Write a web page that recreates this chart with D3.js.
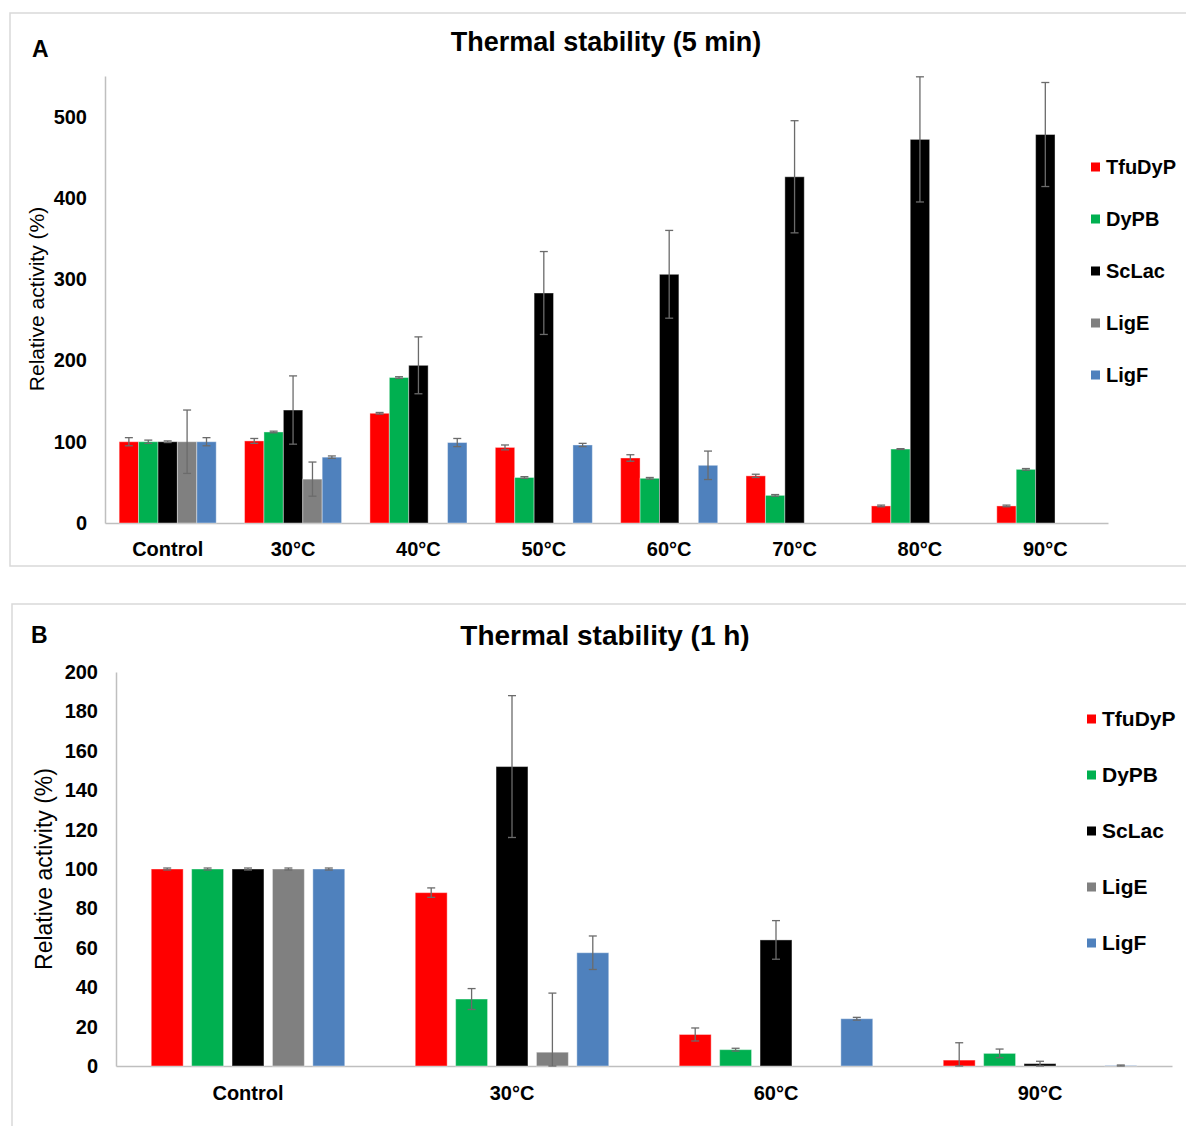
<!DOCTYPE html>
<html><head><meta charset="utf-8">
<script src="https://cdn.jsdelivr.net/npm/d3@7"></script>
<style>
body{margin:0;background:#fff}
svg{display:block}
text{font-family:'Liberation Sans',Arial,sans-serif;fill:#000}
</style>
</head><body>
<svg id="chart" width="1186" height="1126"></svg>
<script>
// series + colours
const SERIES=["TfuDyP","DyPB","ScLac","LigE","LigF"];
const COLORS=["#ff0000","#00b050","#000000","#808080","#4f81bd"];

// ── A : 5 min ──
const CAT_A=["Control","30°C","40°C","50°C","60°C","70°C","80°C","90°C"];
const TICKS_A=[0,100,200,300,400,500];
const TFU_A=[100,101,135,93,80,58,21,21];
const TFU_A_ERR=[5,3,1,3,4,2,1,1];
const DYPB_A=[100,112,179,56,55,34,91,66];
const DYPB_A_ERR=[2,1,1,1,1,1,0.5,1];
const SCLAC_A=[100,139,194,283,306,426,472,478];
const SCLAC_A_ERR=[1,42,35,51,54,69,77,64];
const LIGE_A=[100,54,null,null,null,null,null,null];
const LIGE_A_ERR=[39,21,null,null,null,null,null,null];
const LIGF_A=[100,81,99,96,71,null,null,null];
const LIGF_A_ERR=[5,1.5,5,2,17.5,null,null,null];

// ── B : 1 h ──
const CAT_B=["Control","30°C","60°C","90°C"];
const TICKS_B=[0,20,40,60,80,100,120,140,160,180,200];
const TFU_B=[100,88,16,3];
const TFU_B_ERR=[0.5,2.4,3.3,8.8];
const DYPB_B=[100,34,8.3,6.4];
const DYPB_B_ERR=[0.5,5.3,0.7,2.2];
const SCLAC_B=[100,152,64,1.2];
const SCLAC_B_ERR=[0.5,36,9.8,1.2];
const LIGE_B=[100,7,null,null];
const LIGE_B_ERR=[0.5,30,null,null];
const LIGF_B=[100,57.5,24,0.2];
const LIGF_B_ERR=[0.5,8.5,0.7,0.3];

const svg=d3.select("#chart");
const FONT="'Liberation Sans',Arial,sans-serif";

function drawPanel(o){
  const g=svg.append("g");
  // frame
  g.append("rect").attr("x",o.frame[0]).attr("y",o.frame[1]).attr("width",o.frame[2]).attr("height",o.frame[3])
    .attr("fill","none").attr("stroke","#d9d9d9").attr("stroke-width",1.5);

  const x0=d3.scaleBand().domain(o.cats).range([o.left,o.right]).paddingInner(o.pad).paddingOuter(o.pad/2);
  const x1=d3.scaleBand().domain(SERIES).range([0,x0.bandwidth()]).paddingInner(o.inner);
  const y=d3.scaleLinear().domain([0,o.yMax]).range([o.bottom,o.top]);

  g.append("text").attr("x",o.letter[0]).attr("y",o.letter[1]).attr("font-size",23).attr("font-weight","bold").text(o.letterTxt);
  g.append("text").attr("x",o.titleX).attr("y",o.titleY).attr("text-anchor","middle")
    .attr("font-size",o.titleSize).attr("font-weight","bold").text(o.title);

  // axes
  const ya=g.append("g").attr("transform",`translate(${o.left},0)`)
    .call(d3.axisLeft(y).tickValues(o.ticks).tickSize(0).tickSizeOuter(0).tickPadding(18));
  ya.select(".domain").attr("stroke","#bfbfbf").attr("stroke-width",1.5);
  ya.selectAll("text").attr("font-size",o.tickSize).attr("font-weight","bold").attr("font-family",FONT).attr("fill","#000");

  const xa=g.append("g").attr("transform",`translate(0,${o.bottom})`)
    .call(d3.axisBottom(x0).tickSize(0).tickSizeOuter(0).tickPadding(o.catPad));
  xa.select(".domain").attr("stroke","#bfbfbf").attr("stroke-width",1.5);
  xa.selectAll("text").attr("font-size",o.tickSize).attr("font-weight","bold").attr("font-family",FONT).attr("fill","#000");

  // bars + error bars
  o.cats.forEach((c,i)=>{
    SERIES.forEach((s,k)=>{
      const v=o.vals[k][i];
      if(v===null)return;
      const bx=x0(c)+x1(s),bw=x1.bandwidth();
      g.append("rect").attr("x",bx).attr("y",y(v)).attr("width",bw).attr("height",y(0)-y(v))
        .attr("fill",COLORS[k]).attr("stroke","#fff").attr("stroke-opacity",0.4).attr("stroke-width",1);
      const e=o.errs[k][i];
      if(e===null)return;
      const cx=bx+bw/2,top=y(v+e),bot=y(Math.max(0,v-e));
      g.append("line").attr("x1",cx).attr("x2",cx).attr("y1",top).attr("y2",bot)
        .attr("stroke","#6b6b6b").attr("stroke-width",1.3);
      [top,bot].forEach(yy=>{
        g.append("line").attr("x1",cx-4).attr("x2",cx+4).attr("y1",yy).attr("y2",yy)
          .attr("stroke","#6b6b6b").attr("stroke-width",1.3);
      });
    });
  });

  // y label
  g.append("text").attr("transform",`translate(${o.ylab[0]},${o.ylab[1]}) rotate(-90)`)
    .attr("text-anchor","middle").attr("font-size",o.ylabSize).text("Relative activity (%)");

  // legend
  SERIES.forEach((s,k)=>{
    const ly=o.legY+k*o.legDy;
    g.append("rect").attr("x",o.legX).attr("y",ly-4.5).attr("width",9).attr("height",9).attr("fill",COLORS[k]);
    g.append("text").attr("x",o.legX+15).attr("y",ly+7).attr("font-size",o.legSize).attr("font-weight","bold").text(s);
  });
}

drawPanel({
  frame:[10,13,1200,553],cats:CAT_A,ticks:TICKS_A,yMax:550,
  left:105,right:1108,top:76,bottom:523,pad:0.226,inner:0,
  letter:[32,57],letterTxt:"A",title:"Thermal stability (5 min)",titleX:606,titleY:51,titleSize:27,
  vals:[TFU_A,DYPB_A,SCLAC_A,LIGE_A,LIGF_A],errs:[TFU_A_ERR,DYPB_A_ERR,SCLAC_A_ERR,LIGE_A_ERR,LIGF_A_ERR],
  ylab:[44,299],ylabSize:21,tickSize:20,catPad:19,legX:1091,legY:167,legDy:52,legSize:20
});
drawPanel({
  frame:[12,604,1200,540],cats:CAT_B,ticks:TICKS_B,yMax:200,
  left:116,right:1172,top:672,bottom:1066,pad:0.267,inner:0.21,
  letter:[31,643],letterTxt:"B",title:"Thermal stability (1 h)",titleX:605,titleY:645,titleSize:28,
  vals:[TFU_B,DYPB_B,SCLAC_B,LIGE_B,LIGF_B],errs:[TFU_B_ERR,DYPB_B_ERR,SCLAC_B_ERR,LIGE_B_ERR,LIGF_B_ERR],
  ylab:[52,869],ylabSize:23,tickSize:20,catPad:20,legX:1087,legY:719,legDy:56,legSize:21
});
</script>
</body></html>
